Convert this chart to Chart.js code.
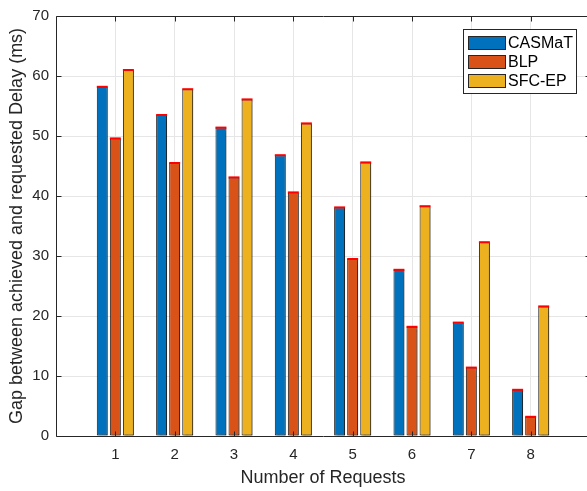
<!DOCTYPE html>
<html>
<head>
<meta charset="utf-8">
<script src="https://cdn.jsdelivr.net/npm/chart.js@4.4.1/dist/chart.umd.min.js"></script>
<style>
  html, body { margin: 0; padding: 0; background: #fff; overflow: hidden; }
  #wrap { width: 600px; height: 491px; }
</style>
</head>
<body>
<div id="wrap"><canvas id="c" width="600" height="491"></canvas></div>
<script>
// Number of simultaneous requests
const categories = [1, 2, 3, 4, 5, 6, 7, 8];
// Gap between achieved and requested delay (ms) per method
const casmat = [58.2, 53.5, 51.4, 46.8, 38.1, 27.7, 18.9, 7.7];
const blp    = [49.6, 45.5, 43.1, 40.6, 29.5, 18.2, 11.4, 3.2];
const sfcep  = [61.0, 57.8, 56.1, 52.1, 45.6, 38.3, 32.3, 21.6];
const seriesNames = ['CASMaT', 'BLP', 'SFC-EP'];
const yTicks = [0, 10, 20, 30, 40, 50, 60, 70];

const colors = ['#0072BD', '#D95319', '#EDB120'];
const FONT = "'Liberation Sans', Arial, Helvetica, sans-serif";
const TXT = '#262626';

const toPoints = arr => arr.map((v, i) => ({ x: categories[i], y: v }));

// Soft drop shadow under the bars, red cap on top of each bar
const barEffects = {
  id: 'barEffects',
  beforeDatasetsDraw(chart) {
    const ctx = chart.ctx;
    ctx.save();
    ctx.shadowColor = 'rgba(0,0,0,0.4)';
    ctx.shadowOffsetX = 1.5;
    ctx.shadowOffsetY = 1;
    ctx.shadowBlur = 1.5;
  },
  afterDatasetsDraw(chart) {
    const ctx = chart.ctx;
    ctx.restore();
    ctx.save();
    ctx.fillStyle = '#FF0000';
    chart.data.datasets.forEach((ds, di) => {
      const meta = chart.getDatasetMeta(di);
      meta.data.forEach(el => {
        const p = el.getProps(['x', 'y', 'width'], true);
        ctx.fillRect(p.x - p.width / 2, p.y - 1, p.width, 2);
      });
    });
    ctx.restore();
  }
};

// Box frame with inward tick marks
const frame = {
  id: 'frame',
  afterDatasetsDraw(chart) {
    const { ctx, chartArea: a, scales: { x, y } } = chart;
    ctx.save();
    ctx.strokeStyle = '#262626';
    ctx.lineWidth = 1;
    ctx.beginPath();
    const L = Math.round(a.left) + 0.5, T = Math.round(a.top) + 0.5;
    const B = Math.round(a.bottom) + 0.5, R = Math.round(a.right) + 0.5;
    ctx.moveTo(R, T); ctx.lineTo(L, T); ctx.lineTo(L, B); ctx.lineTo(R, B); ctx.lineTo(R, T);
    const tl = 5;
    categories.forEach(c => {
      const px = Math.round(x.getPixelForValue(c)) + 0.5;
      ctx.moveTo(px, B); ctx.lineTo(px, B - tl);
      ctx.moveTo(px, T); ctx.lineTo(px, T + tl);
    });
    yTicks.forEach(v => {
      const py = Math.round(y.getPixelForValue(v)) + 0.5;
      ctx.moveTo(L, py); ctx.lineTo(L + tl, py);
      ctx.moveTo(R, py); ctx.lineTo(R - tl, py);
    });
    ctx.stroke();
    ctx.restore();
  }
};

// Legend box in the upper right corner of the plot
const legendBox = {
  id: 'legendBox',
  afterDraw(chart) {
    const ctx = chart.ctx;
    const bx = 463.5, by = 29.5, bw = 113, bh = 64;
    ctx.save();
    ctx.fillStyle = '#fff';
    ctx.fillRect(bx, by, bw, bh);
    ctx.strokeStyle = '#262626';
    ctx.lineWidth = 1;
    ctx.strokeRect(bx, by, bw, bh);
    ctx.font = '16px ' + FONT;
    ctx.textBaseline = 'middle';
    chart.data.datasets.forEach((ds, i) => {
      const py = 35.5 + i * 19.3;
      ctx.fillStyle = ds.backgroundColor;
      ctx.fillRect(468, Math.round(py), 38, 14);
      ctx.strokeStyle = '#262626';
      ctx.strokeRect(468.5, Math.round(py) + 0.5, 37, 13);
      ctx.fillStyle = '#000';
      ctx.fillText(ds.label, 508, Math.round(py) + 7.5);
    });
    ctx.restore();
  }
};

const datasets = [casmat, blp, sfcep].map((arr, i) => ({
  label: seriesNames[i],
  data: toPoints(arr),
  backgroundColor: colors[i],
  borderColor: '#1f1f1f',
  borderWidth: 1,
  borderSkipped: false,
  clip: false,
  categoryPercentage: 0.66,
  barPercentage: 0.84
}));

new Chart(document.getElementById('c'), {
  type: 'bar',
  data: { datasets },
  plugins: [barEffects, frame, legendBox],
  options: {
    responsive: false,
    animation: false,
    devicePixelRatio: 1,
    layout: { padding: { top: 14, right: 8, left: 0, bottom: 0 } },
    plugins: { legend: { display: false }, tooltip: { enabled: false } },
    scales: {
      x: {
        type: 'linear',
        min: 0,
        max: 9,
        offset: false,
        afterFit: s => { s.height = 55; },
        afterBuildTicks: s => { s.ticks = [0, ...categories, 9].map(v => ({ value: v })); },
        ticks: {
          autoSkip: false,
          padding: 10,
          color: TXT,
          font: { family: FONT, size: 15 },
          callback: v => (categories.includes(v) ? String(v) : '')
        },
        grid: {
          offset: false,
          drawTicks: false,
          color: ctx => (ctx.tick && categories.includes(ctx.tick.value) ? '#e6e6e6' : 'rgba(0,0,0,0)')
        },
        border: { display: false },
        title: {
          display: true,
          text: 'Number of Requests',
          color: TXT,
          font: { family: FONT, size: 18 },
          padding: { top: 0, bottom: 2 }
        }
      },
      y: {
        min: 0,
        max: 70,
        afterFit: s => { s.width = 56; },
        afterBuildTicks: s => { s.ticks = yTicks.map(v => ({ value: v })); },
        ticks: {
          padding: 7,
          color: TXT,
          font: { family: FONT, size: 15 }
        },
        grid: {
          drawTicks: false,
          color: ctx => (ctx.tick && ctx.tick.value > 0 && ctx.tick.value < 70 ? '#e6e6e6' : 'rgba(0,0,0,0)')
        },
        border: { display: false },
        title: {
          display: true,
          text: 'Gap between achieved and requested Delay (ms)',
          color: TXT,
          font: { family: FONT, size: 18 },
          padding: { top: 6, bottom: 0 }
        }
      }
    }
  }
});
</script>
</body>
</html>
